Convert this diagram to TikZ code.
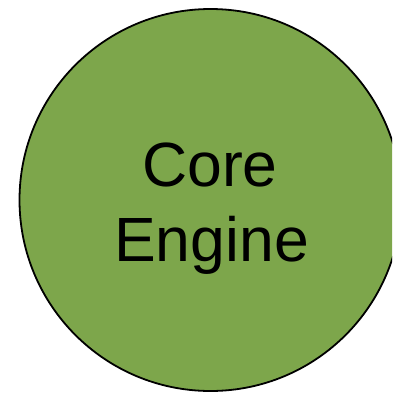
\documentclass[tikz,border=0pt]{standalone}
\usepackage{fontspec}
\setmainfont{Liberation Sans}
\definecolor{enginegreen}{HTML}{7DA64B}
\begin{document}
\begin{tikzpicture}[x=1pt,y=-1pt,
  bubble/.style={circle,draw=black,fill=enginegreen,line width=1.8pt,minimum size=382pt,inner sep=0pt},
  caption/.style={anchor=base,inner sep=0pt,font=\fontsize{62.5}{70}\selectfont}]
\useasboundingbox (0,0) rectangle (392,394);
\clip (0,0) rectangle (392,394);
\node[bubble] (engine) at (210.5,200) {};
\node[caption] (core) at (210,186.7) {Core};
\node[caption] (eng) at (211.5,261.7) {Engine};
\end{tikzpicture}
\end{document}
